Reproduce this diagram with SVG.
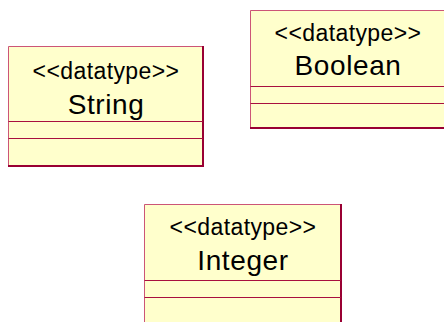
<svg xmlns="http://www.w3.org/2000/svg" width="444" height="322" viewBox="0 0 444 322">
<style>
.box{fill:#FFFFCC;stroke:none}
.tl{stroke:#CC5577;stroke-width:1;fill:none}
.br{stroke:#990033;stroke-width:2;fill:none}
.ln{stroke:#A8103F;stroke-width:1}
.st{font-family:"Liberation Sans",Arial,sans-serif;font-size:23px;letter-spacing:0.4px;fill:#000;text-anchor:middle}
.nm{font-family:"Liberation Sans",Arial,sans-serif;font-size:28px;letter-spacing:0.6px;fill:#000;text-anchor:middle}
</style>
<rect width="444" height="322" fill="#fff"/>
<g id="String">
<rect class="box" x="8" y="46" width="196" height="121"/>
<path class="tl" d="M8.5,166 V46.5 H203"/>
<path class="br" d="M203,46 V166 H8"/>
<line class="ln" x1="8.5" y1="121.5" x2="203" y2="121.5"/>
<line class="ln" x1="8.5" y1="138.5" x2="203" y2="138.5"/>
<text class="st" x="106" y="79">&lt;&lt;datatype&gt;&gt;</text>
<text class="nm" x="106" y="114">String</text>
</g>
<g id="Boolean">
<rect class="box" x="250" y="10" width="194" height="119"/>
<path class="tl" d="M250.5,128 V10.5 H444"/>
<path class="br" d="M250,128 H444"/>
<line class="ln" x1="250.5" y1="86.5" x2="444" y2="86.5"/>
<line class="ln" x1="250.5" y1="103.5" x2="444" y2="103.5"/>
<text class="st" x="348" y="41">&lt;&lt;datatype&gt;&gt;</text>
<text class="nm" x="348" y="75">Boolean</text>
</g>
<g id="Integer">
<rect class="box" x="144" y="204" width="198" height="118"/>
<path class="tl" d="M144.5,322 V204.5 H341"/>
<path class="br" d="M341,204 V322"/>
<line class="ln" x1="144.5" y1="280.5" x2="341" y2="280.5"/>
<line class="ln" x1="144.5" y1="297.5" x2="341" y2="297.5"/>
<text class="st" x="243" y="235">&lt;&lt;datatype&gt;&gt;</text>
<text class="nm" x="243" y="270">Integer</text>
</g>
<g id="connectors"/>
</svg>
